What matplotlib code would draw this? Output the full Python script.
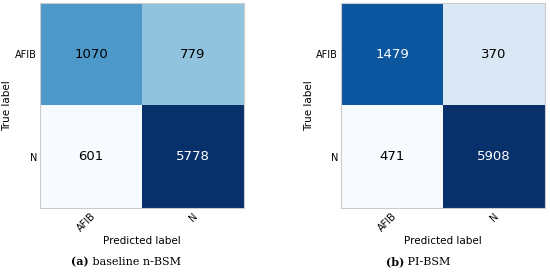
import numpy as np
import matplotlib
matplotlib.use("Agg")
import matplotlib.pyplot as plt

classes = ["AFIB", "N"]
cm_baseline = [[1070, 779], [601, 5778]]
cm_pi = [[1479, 370], [471, 5908]]
captions = [("(a)", " baseline n-BSM"), ("(b)", " PI-BSM")]

fig = plt.figure(figsize=(5.5, 2.72), dpi=100)
axes_rects = [[0.0727, 0.235, 0.371, 0.754], [0.62, 0.235, 0.371, 0.754]]
caption_x = [0.162, 0.735]

for cm, rect, cap, cx in zip([cm_baseline, cm_pi], axes_rects, captions, caption_x):
    ax = fig.add_axes(rect)
    cm = np.array(cm, dtype=float)
    norm = cm / cm.sum(axis=1, keepdims=True)
    ax.imshow(norm, cmap="Blues", aspect="auto", interpolation="nearest")
    for i in range(cm.shape[0]):
        for j in range(cm.shape[1]):
            color = "white" if norm[i, j] > 0.7 else "black"
            ax.text(j, i, f"{int(cm[i, j])}", ha="center", va="center",
                    fontsize=9.5, color=color)
    ax.set_xticks(range(len(classes)))
    ax.set_yticks(range(len(classes)))
    ax.set_xticklabels(classes, rotation=45, ha="right", rotation_mode="anchor",
                       fontsize=7)
    ax.set_yticklabels(classes, fontsize=7)
    ax.tick_params(length=0, pad=2)
    ax.set_xlabel("Predicted label", fontsize=7.5, labelpad=2)
    ax.set_ylabel("True label", fontsize=7.5, labelpad=2)
    for s in ax.spines.values():
        s.set_color("#cccccc")
        s.set_linewidth(0.8)
    fig.text(cx, 0.037, cap[0], fontsize=8, family="DejaVu Serif",
             fontweight="bold", ha="right", va="center")
    fig.text(cx, 0.037, cap[1], fontsize=8, family="DejaVu Serif",
             ha="left", va="center")

fig.savefig("out.png", dpi=100)
